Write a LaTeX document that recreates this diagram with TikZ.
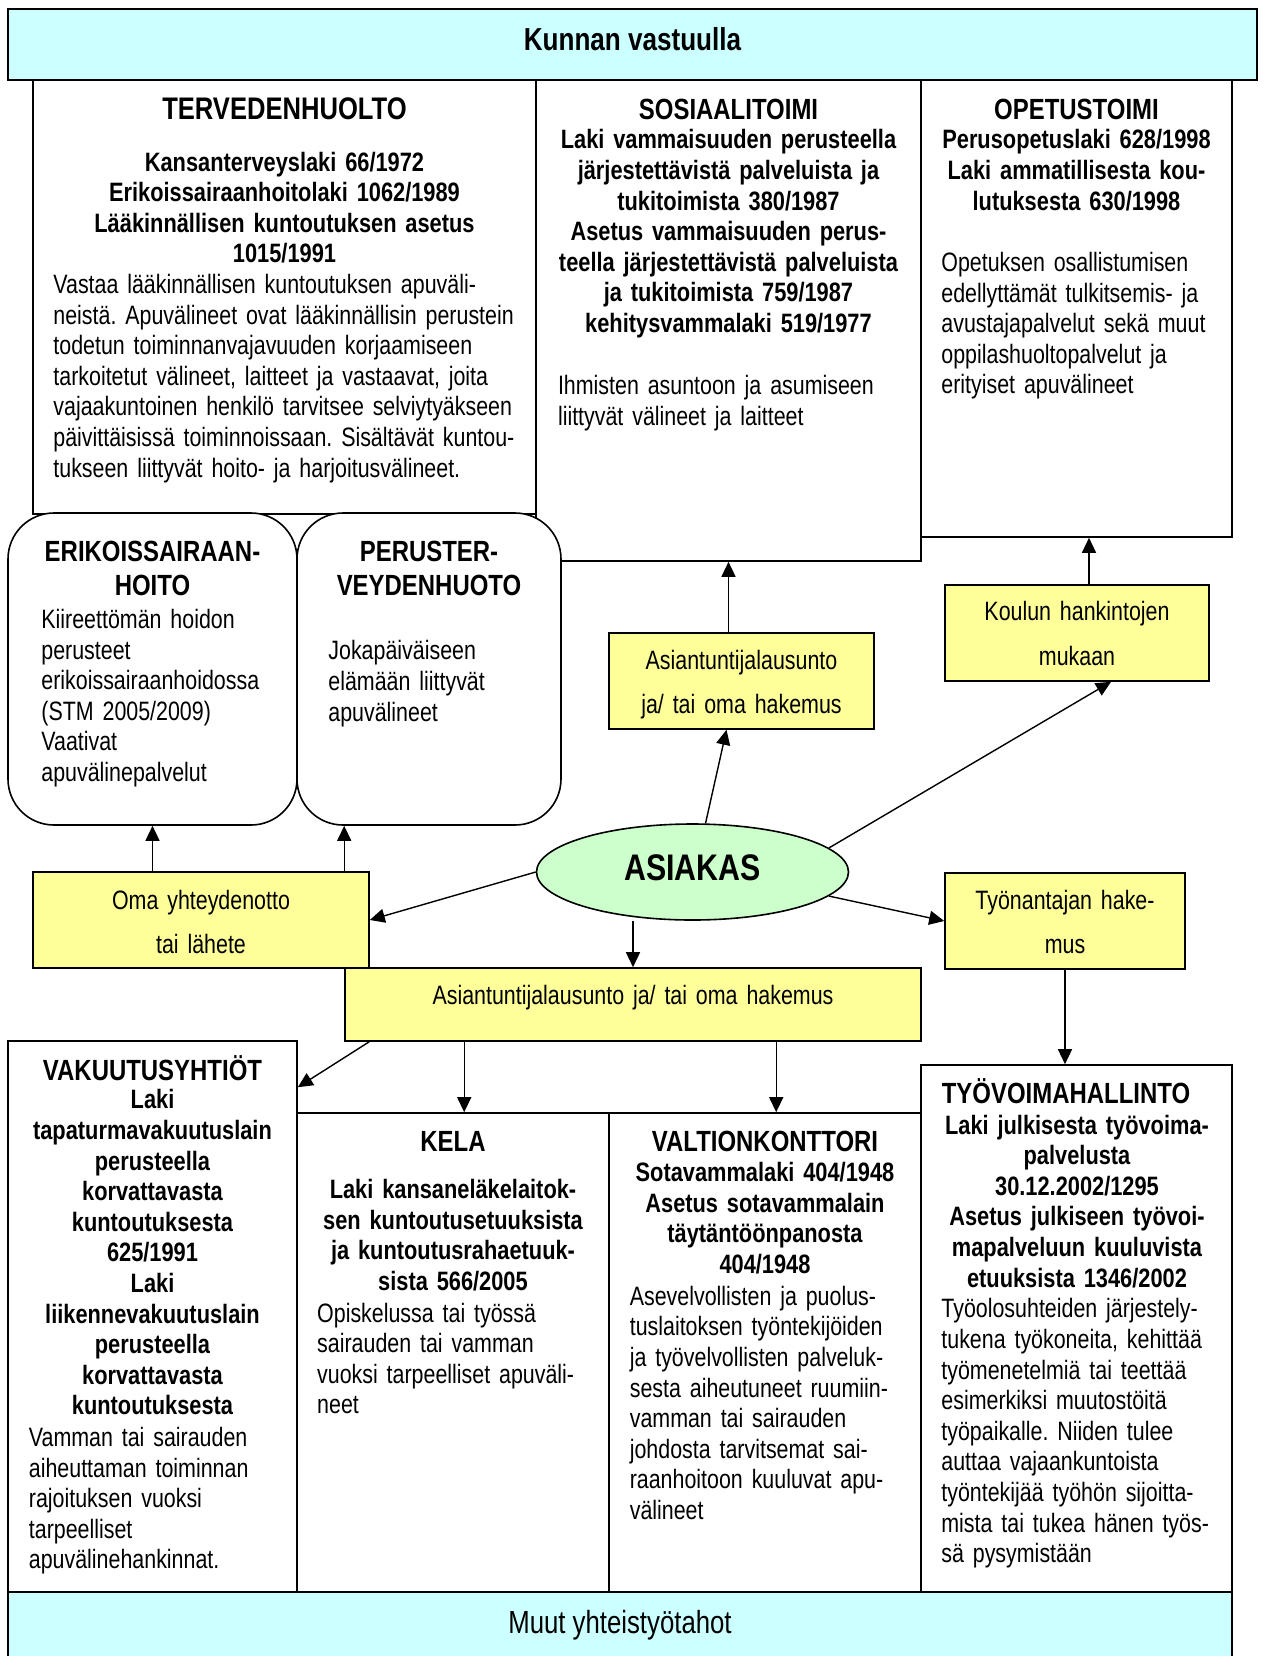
\documentclass[tikz,border=0pt]{standalone}
\usepackage{fontspec}
\setmainfont{Liberation Sans}[FakeStretch=0.805, BoldFeatures={FakeStretch=0.82}]
\usetikzlibrary{arrows.meta,shapes.geometric,fit,calc}
\definecolor{bandcyan}{HTML}{CCFFFF}
\definecolor{noteyellow}{HTML}{FFFF99}
\definecolor{clientgreen}{HTML}{CCFFCC}
\frenchspacing

\begin{document}
\begin{tikzpicture}[x=0.5pt,y=-0.5pt,
  boxframe/.style={draw, line width=0.8pt, fill=white, inner sep=0pt},
  band/.style={boxframe, fill=bandcyan},
  roundbox/.style={boxframe, rounded corners=23pt},
  note/.style={boxframe, fill=noteyellow},
  arr/.style={-{Triangle[length=7.5pt,width=7pt]}, line width=0.7pt},
  txt/.style={inner sep=0pt, text height=0pt},
  centreblock/.style={txt, anchor=north, align=center, text width=300pt},
  leftblock/.style={txt, anchor=north west, align=left, text width=300pt},
  bodyfont/.style={font=\fontsize{13.3pt}{15.3pt}\selectfont},
  lawfont/.style={font=\fontsize{13.3pt}{15.3pt}\selectfont\bfseries},
  headfont/.style={font=\fontsize{14.6pt}{17pt}\selectfont\bfseries},
  notefont/.style={font=\fontsize{13.3pt}{22.2pt}\selectfont},
  headline/.style={inner sep=0pt, anchor=base, headfont},
]
\useasboundingbox (0,0) rectangle (1264,1656);

% ---------- municipal sectors ----------
\node[boxframe, fit={(536,80)(921,561)}] (sos) {};
\node[boxframe, fit={(921,80)(1232,537)}] (opet) {};
\node[boxframe, fit={(33,80)(536,514)}] (ter) {};
\node[roundbox, fit={(8,513)(297,825)}] (erik) {};
\node[roundbox, fit={(297,513)(561,825)}] (per) {};
\node[band, fit={(8,9)(1257,80)}] (kunta) {};
\node[inner sep=0pt, anchor=base, font=\fontsize{15.9pt}{18pt}\selectfont\bfseries] (kunta-t) at (632.5,50) {Kunnan vastuulla};

% Terveydenhuolto
\node[headline, font=\fontsize{15.6pt}{18pt}\selectfont\bfseries] (ter-h) at (284.5,119) {TERVEDENHUOLTO};
\node[centreblock, lawfont] (ter-l) at (284.5,170.6) {Kansanterveyslaki 66/1972\\Erikoissairaanhoitolaki 1062/1989\\Lääkinnällisen kuntoutuksen asetus\\1015/1991};
\node[leftblock, bodyfont] (ter-b) at (53,293) {Vastaa lääkinnällisen kuntoutuksen apuväli-\\neistä. Apuvälineet ovat lääkinnällisin perustein\\todetun toiminnanvajavuuden korjaamiseen\\tarkoitetut välineet, laitteet ja vastaavat, joita\\vajaakuntoinen henkilö tarvitsee selviytyäkseen\\päivittäisissä toiminnoissaan. Sisältävät kuntou-\\tukseen liittyvät hoito- ja harjoitusvälineet.};

% Sosiaalitoimi
\node[headline] (sos-h) at (728.5,119) {SOSIAALITOIMI};
\node[centreblock, lawfont] (sos-l) at (728.5,148.4) {Laki vammaisuuden perusteella\\järjestettävistä palveluista ja\\tukitoimista 380/1987\\Asetus vammaisuuden perus-\\teella järjestettävistä palveluista\\ja tukitoimista 759/1987\\kehitysvammalaki 519/1977};
\node[leftblock, bodyfont] (sos-b) at (557.6,394.5) {Ihmisten asuntoon ja asumiseen\\liittyvät välineet ja laitteet};

% Opetustoimi
\node[headline] (opet-h) at (1076.5,119) {OPETUSTOIMI};
\node[centreblock, lawfont] (opet-l) at (1076.5,148.4) {Perusopetuslaki 628/1998\\Laki ammatillisesta kou-\\lutuksesta 630/1998};
\node[leftblock, bodyfont] (opet-b) at (941,271) {Opetuksen osallistumisen\\edellyttämät tulkitsemis- ja\\avustajapalvelut sekä muut\\oppilashuoltopalvelut ja\\erityiset apuvälineet};

% Erikoissairaanhoito and perusterveydenhuolto
\node[centreblock, headfont] (erik-h) at (152.5,561) {ERIKOISSAIRAAN-\\HOITO};
\node[leftblock, bodyfont] (erik-b) at (41,628) {Kiireettömän hoidon\\perusteet\\erikoissairaanhoidossa\\(STM 2005/2009)\\Vaativat\\apuvälinepalvelut};
\node[centreblock, headfont] (per-h) at (429,561) {PERUSTER-\\VEYDENHUOTO};
\node[leftblock, bodyfont] (per-b) at (328,659.5) {Jokapäiväiseen\\elämään liittyvät\\apuvälineet};

% ---------- routes ----------
\node[note, fit={(609,633)(874,729)}] (asi) {};
\node[centreblock, notefont] (asi-t) at (741.5,669) {Asiantuntijalausunto\\ja/ tai oma hakemus};
\node[note, fit={(945,585)(1209,681)}] (koul) {};
\node[centreblock, notefont] (koul-t) at (1077,620.5) {Koulun hankintojen\\mukaan};
\node[note, fit={(33,872)(369,968)}] (oma) {};
\node[centreblock, notefont] (oma-t) at (201,908.8) {Oma yhteydenotto\\tai lähete};
\node[note, fit={(945,873)(1185,969)}] (tyon) {};
\node[centreblock, notefont] (tyon-t) at (1065,908.8) {Työnantajan hake-\\mus};
\node[note, fit={(345,968)(921,1041)}] (wide) {};
\node[centreblock, notefont] (wide-t) at (633,1003.8) {Asiantuntijalausunto ja/ tai oma hakemus};

\node[ellipse, draw, line width=0.8pt, fill=clientgreen, minimum width=156pt, minimum height=48pt, inner sep=0pt] (asiakas) at (692.5,872) {};
\node[inner sep=0pt, font=\fontsize{18.5pt}{22pt}\selectfont\bfseries] (asiakas-t) at (692.5,868) {ASIAKAS};

% ---------- other partners ----------
\node[boxframe, fit={(8,1041)(297,1592)}] (vak) {};
\node[boxframe, fit={(297,1113)(609,1592)}] (kela) {};
\node[boxframe, fit={(609,1113)(921,1592)}] (valt) {};
\node[boxframe, fit={(921,1065)(1232,1592)}] (tyov) {};
\node[band, fit={(8,1592)(1232,1672)}] (muut) {};
\node[inner sep=0pt, anchor=base, font=\fontsize{16pt}{18pt}\selectfont] (muut-t) at (620,1633) {Muut yhteistyötahot};

% Vakuutusyhtiöt
\node[headline] (vak-h) at (152.5,1080) {VAKUUTUSYHTIÖT};
\node[centreblock, lawfont] (vak-l) at (152.5,1108.4) {Laki\\tapaturmavakuutuslain\\perusteella\\korvattavasta\\kuntoutuksesta\\625/1991\\Laki\\liikennevakuutuslain\\perusteella\\korvattavasta\\kuntoutuksesta};
\node[leftblock, bodyfont] (vak-b) at (28.5,1446) {Vamman tai sairauden\\aiheuttaman toiminnan\\rajoituksen vuoksi\\tarpeelliset\\apuvälinehankinnat.};

% Kela
\node[headline] (kela-h) at (453,1151) {KELA};
\node[centreblock, lawfont] (kela-l) at (453,1198) {Laki kansaneläkelaitok-\\sen kuntoutusetuuksista\\ja kuntoutusrahaetuuk-\\sista 566/2005};
\node[leftblock, bodyfont] (kela-b) at (316.8,1321.7) {Opiskelussa tai työssä\\sairauden tai vamman\\vuoksi tarpeelliset apuväli-\\neet};

% Valtionkonttori
\node[headline] (valt-h) at (765,1151) {VALTIONKONTTORI};
\node[centreblock, lawfont] (valt-l) at (765,1181.2) {Sotavammalaki 404/1948\\Asetus sotavammalain\\täytäntöönpanosta\\404/1948};
\node[leftblock, bodyfont] (valt-b) at (629.4,1304.8) {Asevelvollisten ja puolus-\\tuslaitoksen työntekijöiden\\ja työvelvollisten palveluk-\\sesta aiheutuneet ruumiin-\\vamman tai sairauden\\johdosta tarvitsemat sai-\\raanhoitoon kuuluvat apu-\\välineet};

% Työvoimahallinto
\node[headline] (tyov-h) at (1066,1103) {TYÖVOIMAHALLINTO};
\node[centreblock, lawfont] (tyov-l) at (1077,1133.7) {Laki julkisesta työvoima-\\palvelusta\\30.12.2002/1295\\Asetus julkiseen työvoi-\\mapalveluun kuuluvista\\etuuksista 1346/2002};
\node[leftblock, bodyfont] (tyov-b) at (941,1317.4) {Työolosuhteiden järjestely-\\tukena työkoneita, kehittää\\työmenetelmiä tai teettää\\esimerkiksi muutostöitä\\työpaikalle. Niiden tulee\\auttaa vajaankuntoista\\työntekijää työhön sijoitta-\\mista tai tukea hänen työs-\\sä pysymistään};

% ---------- connectors ----------
\coordinate (oma-p) at ($(oma.north west)+(312,0)$);
\coordinate (koul-o) at ($(koul.north)+(12,0)$);
\coordinate (wide-v) at ($(wide.south west)+(25,0)$);
\coordinate (wide-k) at ($(wide.south west)+(120,0)$);
\coordinate (wide-t) at ($(wide.south west)+(432,0)$);

\draw[arr] (oma.north -| erik.south) -- (erik.south);
\draw[arr] (oma-p) -- (oma-p |- per.south);
\draw[arr] (asiakas.west) -- (oma.east);
\draw[arr] (asiakas.75) -- ([xshift=-7.5pt]asi.south);
\draw[arr] (asi.north -| sos.south) -- (sos.south);
\draw[arr] (asiakas.10) -- ([xshift=17pt]koul.south);
\draw[arr] (koul-o) -- (koul-o |- opet.south);
\draw[arr] (asiakas.-10) -- (tyon.west);
\draw[arr] (wide.north |- asiakas.south) -- (wide.north);
\draw[arr] (tyon.south) -- (tyon.south |- tyov.north);
\draw[arr] (wide-v) -- ($(vak.north east)+(0,47)$);
\draw[arr] (wide-k) -- (wide-k |- kela.north);
\draw[arr] (wide-t) -- (wide-t |- valt.north);
\end{tikzpicture}
\end{document}
